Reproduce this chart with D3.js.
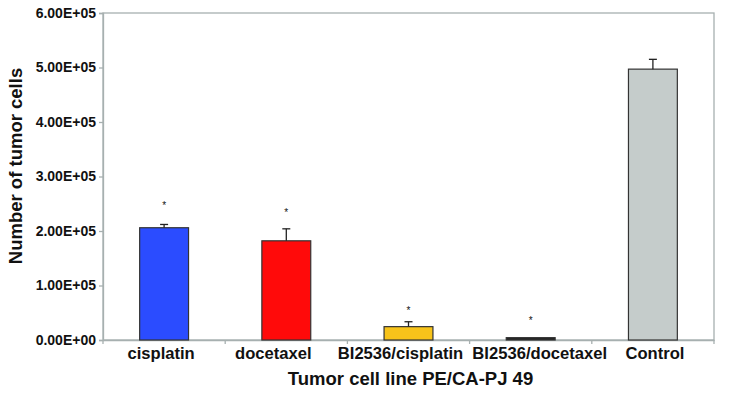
<!DOCTYPE html>
<html><head><meta charset="utf-8">
<script src="https://cdn.jsdelivr.net/npm/d3@7"></script>
<style>body{margin:0;background:#fff}svg{display:block}text{font-family:"Liberation Sans",Arial,sans-serif;font-weight:bold;fill:#111}</style>
</head><body>
<svg id="c" width="732" height="401"></svg>
<script>
const categories = ["cisplatin", "docetaxel", "BI2536/cisplatin", "BI2536/docetaxel", "Control"];
const values = [206000, 182000, 24500, 4300, 497000];
const errors = [6000, 22000, 9000, 0, 18000];
const starValues = [251000, 239000, 58000, 40000, null];
const colors = ["#2b4cff", "#ff0a0a", "#f7c31a", "#222222", "#c5cccb"];
const yTicks = [0, 100000, 200000, 300000, 400000, 500000, 600000];
const yTickLabels = ["0.00E+00", "1.00E+05", "2.00E+05", "3.00E+05", "4.00E+05", "5.00E+05", "6.00E+05"];

// layout: horizontal nudges of the category labels (px), as in the original
const labelShift = [-3, -13, -8, 9, 2];

const svg = d3.select("#c");
const m = {l: 103, t: 13, r: 714, b: 340};
const x = d3.scaleBand().domain(categories).range([m.l, m.r]).paddingInner(0).paddingOuter(0);
const y = d3.scaleLinear().domain([0, 600000]).range([m.b, m.t]);
const axisColor = "#a7b0b0";

// frame
svg.append("rect").attr("x", m.l).attr("y", m.t).attr("width", m.r - m.l).attr("height", m.b - m.t)
  .attr("fill", "none").attr("stroke", axisColor).attr("stroke-width", 1.3);

// y axis
const ya = svg.append("g").attr("transform", `translate(${m.l},0)`)
  .call(d3.axisLeft(y).tickValues(yTicks).tickFormat((d, i) => yTickLabels[i]).tickSize(4).tickPadding(3));
ya.select(".domain").attr("stroke", axisColor).attr("stroke-width", 1.3);
ya.selectAll(".tick line").attr("stroke", axisColor).attr("stroke-width", 1.3);
ya.selectAll(".tick text").attr("font-size", 14).attr("fill", "#111");

// x axis
const xa = svg.append("g").attr("transform", `translate(0,${m.b})`)
  .call(d3.axisBottom(x).tickSize(0).tickPadding(0));
xa.select(".domain").attr("stroke", axisColor).attr("stroke-width", 1.3);
xa.selectAll(".tick text").attr("font-size", 16.6).attr("fill", "#111")
  .attr("dy", null).attr("y", 19).attr("dx", (d, i) => labelShift[i]);
// band boundary ticks
const bounds = categories.map(c => x(c)).concat([m.r]);
svg.append("g").selectAll("line").data(bounds).join("line")
  .attr("x1", d => d).attr("x2", d => d).attr("y1", m.b).attr("y2", m.b + 4)
  .attr("stroke", axisColor).attr("stroke-width", 1.3);

// bars
const bw = x.bandwidth() * 0.4;
const cx = c => x(c) + x.bandwidth() / 2;
svg.append("g").selectAll("rect").data(categories).join("rect")
  .attr("x", c => cx(c) - bw / 2).attr("width", bw)
  .attr("y", (c, i) => y(values[i])).attr("height", (c, i) => y(0) - y(values[i]))
  .attr("fill", (c, i) => colors[i]).attr("stroke", "#333").attr("stroke-width", 1.2);

// error bars
const eg = svg.append("g").attr("stroke", "#222").attr("stroke-width", 1.3);
categories.forEach((c, i) => {
  if (!errors[i]) return;
  const x0 = cx(c);
  eg.append("line").attr("x1", x0).attr("x2", x0).attr("y1", y(values[i])).attr("y2", y(values[i] + errors[i]));
  eg.append("line").attr("x1", x0 - 4).attr("x2", x0 + 4).attr("y1", y(values[i] + errors[i])).attr("y2", y(values[i] + errors[i]));
});

// stars
svg.append("g").selectAll("text").data(categories.filter((c, i) => starValues[i] != null)).join("text")
  .attr("x", c => cx(c)).attr("y", c => y(starValues[categories.indexOf(c)]) + 6)
  .attr("text-anchor", "middle").attr("font-size", 10).style("font-weight", "normal").text("*");

// axis titles
svg.append("text").attr("x", (m.l + m.r) / 2 + 2).attr("y", 385).attr("text-anchor", "middle")
  .attr("font-size", 18.5).text("Tumor cell line PE/CA-PJ 49");
svg.append("text").attr("transform", "translate(22,166) rotate(-90)").attr("text-anchor", "middle")
  .attr("font-size", 18.5).text("Number of tumor cells");
</script>
</body></html>
